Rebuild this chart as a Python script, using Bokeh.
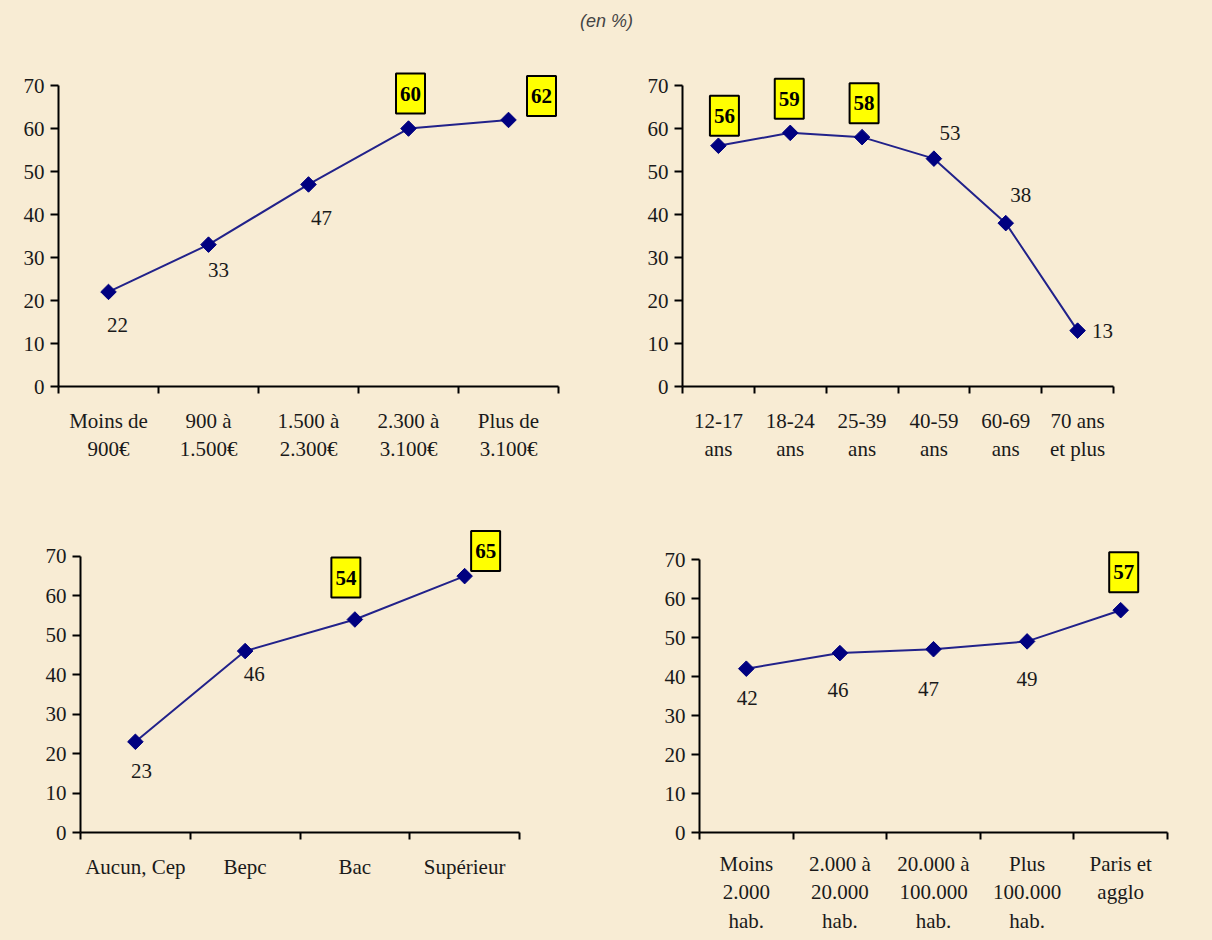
import numpy as np
from bokeh.plotting import figure
from bokeh.layouts import column, row
from bokeh.models import Label, FixedTicker, Range1d
from bokeh.embed import file_html
from bokeh.resources import INLINE

# ---------------- data ----------------
revenu_cats = ["Moins de\n900€", "900 à\n1.500€", "1.500 à\n2.300€", "2.300 à\n3.100€", "Plus de\n3.100€"]
revenu_vals = [22, 33, 47, 60, 62]

age_cats = ["12-17\nans", "18-24\nans", "25-39\nans", "40-59\nans", "60-69\nans", "70 ans\net plus"]
age_vals = [56, 59, 58, 53, 38, 13]

diplome_cats = ["Aucun, Cep", "Bepc", "Bac", "Supérieur"]
diplome_vals = [23, 46, 54, 65]

agglo_cats = ["Moins\n2.000\nhab.", "2.000 à\n20.000\nhab.", "20.000 à\n100.000\nhab.", "Plus\n100.000\nhab.", "Paris et\nagglo"]
agglo_vals = [42, 46, 47, 49, 57]

y_ticks = [0, 10, 20, 30, 40, 50, 60, 70]

# ---------------- style ----------------
BG = "#f8ecd4"
NAVY = "#000080"
LINE = "#22228a"
SERIF = "Liberation Serif"
FS = "21px"


def panel(cats, vals, width, height, mb, ytop, offsets, boxed, standoff):
    n = len(cats)
    p = figure(width=width, height=height, output_backend="svg", toolbar_location=None,
               x_range=Range1d(0, n), y_range=Range1d(0, ytop),
               min_border_left=mb[0], min_border_right=mb[1],
               min_border_top=mb[2], min_border_bottom=mb[3])
    p.background_fill_color = BG
    p.border_fill_color = BG
    p.outline_line_color = None
    p.grid.visible = False

    xs = [i + 0.5 for i in range(n)]
    # x axis: labels at centres, small ticks at category boundaries
    xa = p.xaxis[0]
    xa.ticker = FixedTicker(ticks=xs, minor_ticks=list(range(n + 1)))
    xa.major_label_overrides = {x: c for x, c in zip(xs, cats)}
    xa.major_tick_line_color = None
    xa.major_tick_out = 0
    xa.major_tick_in = 0
    xa.minor_tick_out = 7
    xa.minor_tick_in = 0
    xa.minor_tick_line_width = 2
    xa.minor_tick_line_color = "black"
    xa.axis_line_width = 2
    xa.axis_line_color = "black"
    xa.major_label_standoff = standoff
    xa.major_label_text_font = SERIF
    xa.major_label_text_font_size = FS
    xa.major_label_text_color = "#1a1a1a"
    xa.bounds = (0, n)

    ya = p.yaxis[0]
    ya.ticker = FixedTicker(ticks=y_ticks)
    ya.minor_tick_line_color = None
    ya.major_tick_out = 8
    ya.major_tick_in = 0
    ya.major_tick_line_width = 2
    ya.major_tick_line_color = "black"
    ya.axis_line_width = 2
    ya.axis_line_color = "black"
    ya.major_label_standoff = 6
    ya.major_label_text_font = SERIF
    ya.major_label_text_font_size = FS
    ya.major_label_text_color = "#1a1a1a"
    ya.bounds = (0, 70)

    p.line(xs, vals, line_color=LINE, line_width=2)
    p.scatter(xs, vals, marker="square", angle=np.pi / 4, size=11,
              fill_color=NAVY, line_color=NAVY)

    for x, v, (dx, dy), b in zip(xs, vals, offsets, boxed):
        kw = dict(x=x, y=v, text=str(v), x_offset=dx, y_offset=dy,
                  text_align="center", text_baseline="middle",
                  text_font=SERIF, text_font_size=FS, text_color="#1a1a1a")
        if b:
            kw.update(text_font_style="bold", text_color="black",
                      background_fill_color="#ffff00", border_line_color="black",
                      border_line_width=2,
                      padding=dict(left=4, right=4, top=13, bottom=13))
        p.add_layout(Label(**kw))
    return p


f1 = panel(revenu_cats, revenu_vals, 600, 448, (58, 42, 32, 94), 74.9,
           [(9, -33), (10, -25), (13, -34), (2, 35), (33, 24)],
           [False, False, False, True, True], 15)
f2 = panel(age_cats, age_vals, 612, 448, (82, 99, 32, 94), 74.9,
           [(6, 30), (-1, 34), (2, 34), (16, 26), (15, 28), (25, 0)],
           [True, True, True, False, False, False], 15)
f3 = panel(diplome_cats, diplome_vals, 600, 460, (80, 81, 40, 99), 79.1,
           [(6, -29), (9, -23), (-9, 42), (21, 25)],
           [False, False, True, True], 15)
f4 = panel(agglo_cats, agglo_vals, 612, 460, (99, 45, 40, 108), 80.0,
           [(1, -29), (-2, -37), (-5, -40), (0, -38), (3, 38)],
           [False, False, False, False, True], 12)

# title strip
t = figure(width=1212, height=32, output_backend="svg", toolbar_location=None,
           x_range=Range1d(0, 1), y_range=Range1d(0, 1),
           x_axis_location=None, y_axis_location=None, min_border=0)
t.background_fill_color = BG
t.border_fill_color = BG
t.outline_line_color = None
t.grid.visible = False
t.add_layout(Label(x=0.5, y=0.375, text="(en %)", text_align="center", text_baseline="middle",
                   text_font="Liberation Sans", text_font_style="italic",
                   text_font_size="18px", text_color="#444444"))

layout = column(t, row(f1, f2, styles={"background-color": BG}),
                row(f3, f4, styles={"background-color": BG}),
                styles={"background-color": BG})

open("out.html", "w").write(file_html(layout, INLINE))
